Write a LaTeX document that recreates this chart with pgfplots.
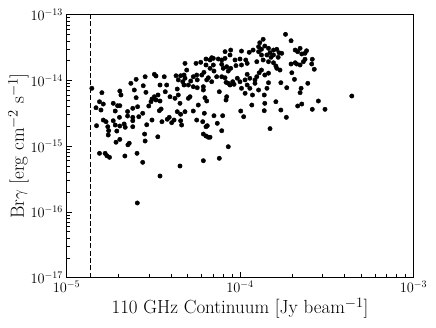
\documentclass[border=0pt]{standalone}
\usepackage{pgfplots}
\pgfplotsset{compat=1.18}
\pgfplotstableread{
x y
1.40e-5 7.60e-15
1.60e-5 6.52e-15
2.03e-5 6.91e-15
2.06e-5 6.01e-15
2.35e-5 9.05e-15
2.52e-5 1.04e-14
2.46e-5 7.16e-15
2.52e-5 5.47e-15
2.84e-5 1.14e-14
3.21e-5 1.24e-14
3.28e-5 1.17e-14
3.46e-5 8.53e-15
3.66e-5 1.14e-14
2.77e-5 8.32e-15
2.87e-5 6.60e-15
3.21e-5 5.66e-15
3.11e-5 5.22e-15
3.28e-5 5.04e-15
3.37e-5 6.01e-15
3.71e-5 6.74e-15
1.55e-5 4.75e-15
1.63e-5 4.38e-15
1.48e-5 3.85e-15
1.58e-5 3.55e-15
1.86e-5 4.49e-15
1.97e-5 4.13e-15
2.03e-5 4.13e-15
1.91e-5 3.43e-15
2.25e-5 3.37e-15
2.41e-5 3.77e-15
2.57e-5 3.99e-15
2.98e-5 4.09e-15
3.07e-5 4.75e-15
3.51e-5 3.68e-15
2.75e-5 3.17e-15
2.25e-5 2.88e-15
2.41e-5 2.75e-15
2.61e-5 2.81e-15
2.41e-5 2.44e-15
2.02e-5 2.75e-15
1.63e-5 2.50e-15
1.69e-5 2.36e-15
1.49e-5 2.05e-15
1.73e-5 1.98e-15
1.86e-5 2.44e-15
1.91e-5 2.10e-15
2.03e-5 2.03e-15
2.15e-5 2.18e-15
2.18e-5 1.94e-15
2.41e-5 1.98e-15
2.90e-5 2.12e-15
3.11e-5 2.50e-15
3.43e-5 3.47e-15
3.55e-5 2.36e-15
1.75e-5 1.72e-15
1.95e-5 1.70e-15
1.74e-5 1.48e-15
2.82e-5 1.53e-15
3.36e-5 1.39e-15
2.03e-5 1.27e-15
1.93e-5 1.15e-15
2.30e-5 1.11e-15
2.26e-5 1.05e-15
2.84e-5 1.20e-15
1.55e-5 7.80e-16
1.67e-5 7.80e-16
1.71e-5 7.17e-16
1.77e-5 6.78e-16
2.17e-5 7.10e-16
2.55e-5 7.80e-16
2.75e-5 5.69e-16
3.46e-5 3.52e-16
2.56e-5 1.37e-16
4.51e-5 5.00e-16
6.15e-5 6.02e-16
7.60e-5 6.55e-16
8.56e-5 9.83e-16
6.15e-5 1.53e-15
6.37e-5 1.43e-15
6.57e-5 1.37e-15
6.72e-5 1.37e-15
6.48e-5 2.05e-15
6.37e-5 1.98e-15
7.85e-5 1.72e-15
7.40e-5 2.23e-15
6.10e-5 2.36e-15
5.63e-5 2.50e-15
6.23e-5 3.17e-15
5.38e-5 3.43e-15
7.08e-5 2.91e-15
7.95e-5 2.91e-15
1.01e-4 3.43e-15
1.05e-4 2.81e-15
3.91e-5 2.75e-15
3.81e-5 2.57e-15
4.17e-5 2.50e-15
4.04e-5 2.28e-15
4.55e-5 2.44e-15
4.61e-5 2.10e-15
4.55e-5 3.06e-15
4.35e-5 3.35e-15
1.28e-4 3.26e-14
1.19e-4 2.90e-14
1.13e-4 2.68e-14
1.02e-4 2.80e-14
8.84e-5 2.90e-14
8.20e-5 2.74e-14
8.76e-5 2.44e-14
8.20e-5 2.17e-14
7.85e-5 2.05e-14
7.50e-5 2.12e-14
7.02e-5 2.17e-14
6.72e-5 2.05e-14
6.87e-5 2.22e-14
6.37e-5 2.12e-14
5.94e-5 1.89e-14
5.58e-5 1.82e-14
4.82e-5 1.82e-14
6.37e-5 1.72e-14
7.02e-5 1.72e-14
6.72e-5 1.53e-14
6.20e-5 1.33e-14
6.02e-5 1.21e-14
7.85e-5 1.76e-14
8.38e-5 1.62e-14
9.36e-5 2.05e-14
1.00e-4 2.12e-14
1.08e-4 2.05e-14
1.10e-4 1.82e-14
1.02e-4 1.72e-14
9.48e-5 1.68e-14
8.56e-5 1.39e-14
8.01e-5 1.53e-14
8.84e-5 1.53e-14
1.10e-4 1.24e-14
1.14e-4 1.08e-14
1.07e-4 1.02e-14
1.00e-4 9.57e-15
9.65e-5 1.08e-14
9.08e-5 9.57e-15
8.56e-5 9.05e-15
8.20e-5 1.10e-14
7.85e-5 1.14e-14
7.34e-5 1.14e-14
8.31e-5 9.37e-15
8.76e-5 8.53e-15
9.24e-5 8.74e-15
1.10e-4 8.53e-15
1.14e-4 7.60e-15
1.02e-4 7.60e-15
1.07e-4 6.38e-15
1.18e-4 6.01e-15
1.28e-4 7.16e-15
4.93e-5 1.44e-14
4.76e-5 1.21e-14
4.55e-5 1.18e-14
4.82e-5 1.08e-14
5.38e-5 1.14e-14
5.63e-5 1.21e-14
5.67e-5 1.02e-14
5.20e-5 9.81e-15
5.04e-5 8.53e-15
5.38e-5 8.04e-15
6.15e-5 8.04e-15
6.43e-5 1.02e-14
6.57e-5 1.10e-14
7.08e-5 1.39e-14
6.87e-5 9.57e-15
6.15e-5 7.16e-15
5.67e-5 7.76e-15
4.28e-5 1.18e-14
4.41e-5 1.02e-14
4.68e-5 9.57e-15
4.76e-5 8.53e-15
3.78e-5 8.53e-15
4.35e-5 7.41e-15
3.95e-5 5.66e-15
4.22e-5 5.35e-15
4.41e-5 6.01e-15
3.46e-5 4.87e-15
5.15e-5 5.66e-15
5.04e-5 5.35e-15
6.28e-5 5.47e-15
6.43e-5 4.87e-15
7.60e-5 6.74e-15
8.31e-5 5.04e-15
8.38e-5 5.66e-15
5.75e-5 4.23e-15
4.51e-5 4.49e-15
4.82e-5 3.35e-15
1.17e-4 4.23e-15
1.83e-4 5.03e-14
1.97e-4 4.02e-14
1.36e-4 4.23e-14
1.30e-4 3.75e-14
1.39e-4 3.34e-14
1.33e-4 2.98e-14
1.28e-4 2.74e-14
1.46e-4 3.08e-14
1.56e-4 2.90e-14
1.63e-4 2.98e-14
1.49e-4 2.64e-14
1.43e-4 2.44e-14
1.56e-4 2.44e-14
1.68e-4 2.64e-14
1.74e-4 2.59e-14
1.51e-4 2.25e-14
1.66e-4 2.25e-14
1.33e-4 2.44e-14
1.36e-4 2.05e-14
1.46e-4 1.93e-14
1.56e-4 1.86e-14
1.61e-4 1.66e-14
1.70e-4 1.44e-14
1.63e-4 1.53e-14
1.25e-4 1.93e-14
1.33e-4 1.44e-14
1.29e-4 1.31e-14
1.46e-4 1.29e-14
1.39e-4 1.21e-14
1.25e-4 1.14e-14
1.22e-4 1.02e-14
1.22e-4 9.05e-15
1.46e-4 9.24e-15
1.72e-4 9.24e-15
1.86e-4 7.76e-15
1.43e-4 7.60e-15
1.38e-4 6.01e-15
1.39e-4 4.49e-15
1.38e-4 3.47e-15
1.61e-4 4.75e-15
1.72e-4 3.55e-15
1.99e-4 1.31e-14
2.06e-4 1.04e-14
1.97e-4 1.78e-14
2.08e-4 1.86e-14
2.15e-4 2.74e-14
2.22e-4 3.08e-14
2.08e-4 2.90e-14
2.27e-4 2.53e-14
2.42e-4 2.83e-14
2.37e-4 2.59e-14
2.32e-4 1.93e-14
2.22e-4 1.72e-14
2.12e-4 1.78e-14
2.37e-4 2.10e-14
2.61e-4 2.10e-14
2.59e-4 1.78e-14
2.68e-4 1.48e-14
2.46e-4 9.05e-15
2.25e-4 7.60e-15
2.22e-4 6.52e-15
2.27e-4 4.38e-15
2.15e-4 4.09e-15
2.83e-4 4.87e-15
2.61e-4 3.64e-15
3.09e-4 3.64e-15
4.41e-4 5.80e-15
1.85e-4 2.75e-15
1.49e-4 1.85e-15
}\pts
\begin{document}
\begin{tikzpicture}
\begin{axis}[
  scale only axis, width=347pt, height=263pt,
  xmode=log, ymode=log,
  xmin=1e-5, xmax=1e-3, ymin=1e-17, ymax=1e-13,
  xtick={1e-5,1e-4,1e-3}, ytick={1e-17,1e-16,1e-15,1e-14,1e-13},
  tick align=inside, xtick pos=bottom, ytick pos=left,
  major tick length=6pt, minor tick length=3.5pt,
  every tick/.style={black, line width=0.7pt},
  axis line style={line width=1pt},
  tick label style={font=\fontsize{14}{16}\selectfont},
  label style={font=\fontsize{19}{22}\selectfont},
  xlabel={110 GHz Continuum [Jy beam$^{-1}$]},
  ylabel={Br$\gamma$ [erg cm$^{-2}$ s$^{-1}$]},
  xlabel style={yshift=2pt},
  ylabel shift=-5pt,
  clip=false,
]
\addplot[black, line width=1.4pt, dash pattern=on 5pt off 2.4pt] coordinates {(1.38e-5,1e-17) (1.38e-5,1e-13)};
\addplot[only marks, mark=*, mark size=2.2pt, black] table[x=x,y=y] {\pts};
\end{axis}
\pgfresetboundingbox
\path (current axis.south west) ++(-66.5pt,-49.3pt) rectangle ++(436pt,327pt);
\end{tikzpicture}
\end{document}
